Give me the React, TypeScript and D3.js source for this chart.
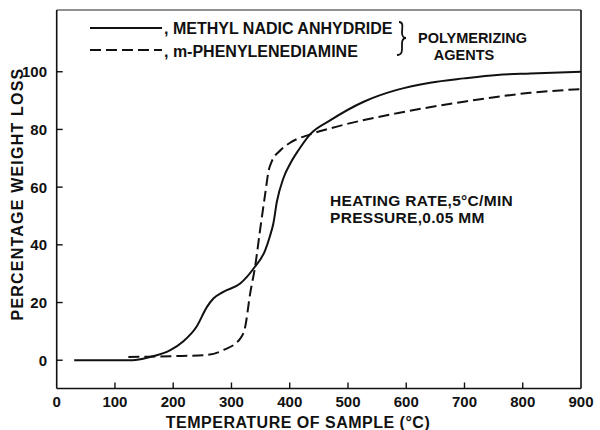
import React from 'react';
import * as d3 from 'd3';

// methyl nadic anhydride (solid)
const solidTemp = [30, 100, 130, 160, 195, 217, 240, 258, 269, 286, 315, 338, 358, 366, 372, 378, 389, 401, 415, 435, 470, 527, 584, 641, 699, 756, 813, 900];
const solidLoss = [0, 0, 0, 1.1, 3.5, 6.5, 11.6, 18.5, 21.4, 23.7, 26.6, 31.8, 38.2, 43, 47.5, 55, 63, 68.2, 72.8, 78.3, 83.2, 89.6, 93.7, 96.2, 97.7, 98.9, 99.4, 100];

// m-phenylenediamine (dashed)
const dashTemp = [123, 195, 252, 286, 315, 323.5, 332, 341, 349, 358, 364, 369, 384, 400, 435, 470, 584, 699, 813, 900];
const dashLoss = [1.1, 1.4, 1.7, 3.5, 7.5, 11.5, 23, 33, 45, 57.8, 65.9, 68.8, 72.8, 75.3, 78.3, 80.4, 85.6, 89.6, 92.7, 94];

const xTicks = [0, 100, 200, 300, 400, 500, 600, 700, 800, 900];
const yTicks = [0, 20, 40, 60, 80, 100];

const FONT = '"Liberation Sans", Arial, sans-serif';

const App = () => {
  const width = 600;
  const height = 430;
  const left = 56.7, right = 581, top = 10, bottom = 388.5;

  const x = d3.scaleLinear().domain([0, 900]).range([left, right]);
  const y = d3.scaleLinear().domain([-9.8, 121.4]).range([bottom, top]);

  const line = d3.line<[number, number]>()
    .x(d => x(d[0]))
    .y(d => y(d[1]))
    .curve(d3.curveMonotoneX);

  const solidPts = solidTemp.map((t, i) => [t, solidLoss[i]] as [number, number]);
  const dashPts = dashTemp.map((t, i) => [t, dashLoss[i]] as [number, number]);

  const txt = { fontFamily: FONT, fontWeight: 700, fill: '#111' } as const;

  return (
    <div style={{ position: 'absolute', left: 0, top: 0 }}>
      <svg width={width} height={height} style={{ display: 'block', background: '#fff' }}>
        {/* frame */}
        <line x1={left} x2={right} y1={top} y2={top} stroke="#222" strokeWidth={1} />
        <line x1={left} x2={left} y1={top} y2={bottom} stroke="#111" strokeWidth={1.6} />
        <line x1={right} x2={right} y1={top} y2={bottom} stroke="#111" strokeWidth={1.6} />
        <line x1={left} x2={right} y1={bottom} y2={bottom} stroke="#111" strokeWidth={1.6} />

        {/* x ticks */}
        {xTicks.map(t => (
          <g key={'x' + t}>
            {t > 0 && t < 900 && (
              <line x1={x(t)} x2={x(t)} y1={bottom} y2={bottom - 6} stroke="#111" strokeWidth={1.4} />
            )}
            <text x={x(t)} y={407} textAnchor="middle" fontSize={15} {...txt}>{t}</text>
          </g>
        ))}

        {/* y ticks */}
        {yTicks.map(t => (
          <g key={'y' + t}>
            <line x1={left} x2={left + 6} y1={y(t)} y2={y(t)} stroke="#111" strokeWidth={1.4} />
            <text x={47} y={y(t)} dy="0.36em" textAnchor="end" fontSize={15} {...txt}>{t}</text>
          </g>
        ))}

        {/* axis titles */}
        <text x={298} y={428} textAnchor="middle" fontSize={16} letterSpacing={0.5} {...txt}>
          TEMPERATURE OF SAMPLE (°C)
        </text>
        <text transform="translate(23,194) rotate(-90)" textAnchor="middle" fontSize={16} letterSpacing={1.2} {...txt}>
          PERCENTAGE WEIGHT LOSS
        </text>

        {/* curves */}
        <path d={line(solidPts) || ''} fill="none" stroke="#111" strokeWidth={2} />
        <path d={line(dashPts) || ''} fill="none" stroke="#111" strokeWidth={2} strokeDasharray="11,5" />

        {/* legend */}
        <line x1={90} x2={162} y1={28} y2={28} stroke="#111" strokeWidth={2} />
        <text x={164} y={34} fontSize={16} {...txt}>, METHYL NADIC ANHYDRIDE</text>
        <line x1={90} x2={162} y1={50} y2={50} stroke="#111" strokeWidth={2} strokeDasharray="11,5" />
        <text x={164} y={57} fontSize={16} {...txt}>, m-PHENYLENEDIAMINE</text>
        <path d="M399,22 C404,22 402,28 402,33 C402,36 404,38 406,38 C404,38 402,40 402,44 C402,50 403,55 397,55"
          fill="none" stroke="#111" strokeWidth={1.8} />
        <text x={418} y={43} fontSize={14.5} {...txt}>POLYMERIZING</text>
        <text x={464} y={60} textAnchor="middle" fontSize={14.5} {...txt}>AGENTS</text>

        {/* conditions */}
        <text x={330} y={206} fontSize={15.5} letterSpacing={0.3} {...txt}>HEATING RATE,5°C/MIN</text>
        <text x={330} y={223} fontSize={15.5} letterSpacing={0.3} {...txt}>PRESSURE,0.05 MM</text>
      </svg>
    </div>
  );
};

export default App;
